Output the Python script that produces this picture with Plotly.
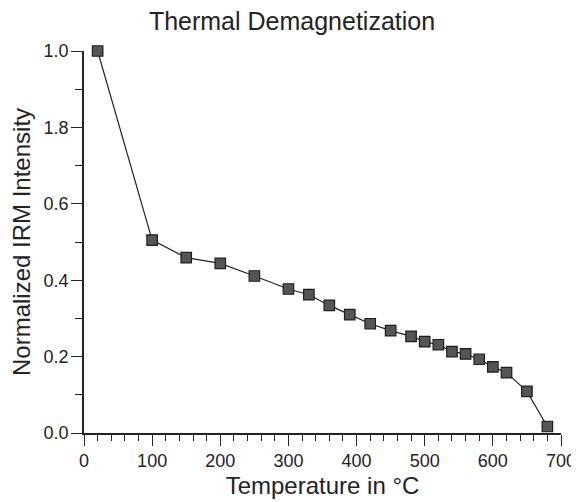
import plotly.graph_objects as go

temperature = [20, 100, 150, 200, 250, 300, 330, 360, 390, 420, 450, 480, 500, 520, 540, 560, 580, 600, 620, 650, 680]
intensity = [1.0, 0.505, 0.459, 0.444, 0.411, 0.377, 0.362, 0.334, 0.310, 0.286, 0.268, 0.253, 0.239, 0.231, 0.213, 0.207, 0.193, 0.173, 0.158, 0.109, 0.017]

x_ticks = [0, 100, 200, 300, 400, 500, 600, 700]
y_tickvals = [0.0, 0.2, 0.4, 0.6, 0.8, 1.0]
y_ticktext = ["0.0", "0.2", "0.4", "0.6", "1.8", "1.0"]

FONT = "Liberation Sans, Arial, Helvetica, sans-serif"
INK = "#232323"

# the page body adds an 8px offset, so figure coordinates are shifted by -8
fig = go.Figure()
fig.add_trace(go.Scatter(
    x=temperature, y=intensity, mode="lines+markers",
    line=dict(color="#222222", width=1.2),
    marker=dict(symbol="square", size=10.5, color="#555555",
                line=dict(color="#1e1e1e", width=1.2)),
    cliponaxis=False, showlegend=False,
))

fig.update_layout(
    width=579, height=502,
    margin=dict(l=76, r=26, t=43, b=77, autoexpand=False),
    paper_bgcolor="white", plot_bgcolor="white",
    font=dict(family=FONT, color=INK),
    title=dict(text="Thermal Demagnetization", font=dict(size=25, color=INK),
               x=284 / 579, xanchor="center", y=1 - 22 / 502, yanchor="bottom", yref="container",
               automargin=False),
)
fig.update_xaxes(
    range=[0, 700], showgrid=False, zeroline=False, automargin=False,
    showline=True, linecolor=INK, linewidth=1.5,
    tickmode="array", tickvals=x_ticks, ticks="outside", ticklen=11, tickwidth=1.3, tickcolor=INK,
    tickfont=dict(size=18, color=INK),
    minor=dict(dtick=20, tick0=0, ticks="outside", ticklen=6, tickwidth=1.1, tickcolor=INK, showgrid=False),
    title=dict(text="Temperature in °C", font=dict(size=24, color=INK), standoff=7),
)
fig.update_yaxes(
    range=[0, 1], showgrid=False, zeroline=False, automargin=False,
    showline=True, linecolor=INK, linewidth=1.5,
    tickmode="array", tickvals=y_tickvals, ticktext=y_ticktext,
    ticks="outside", ticklen=11, tickwidth=1.3, tickcolor=INK,
    tickfont=dict(size=18, color=INK), ticklabelstandoff=-1,
    minor=dict(dtick=0.1, tick0=0, ticks="outside", ticklen=7, tickwidth=1.1, tickcolor=INK, showgrid=False),
    title=dict(text="Normalized IRM Intensity", font=dict(size=24, color=INK), standoff=18),
)

fig.write_html("out.html")
